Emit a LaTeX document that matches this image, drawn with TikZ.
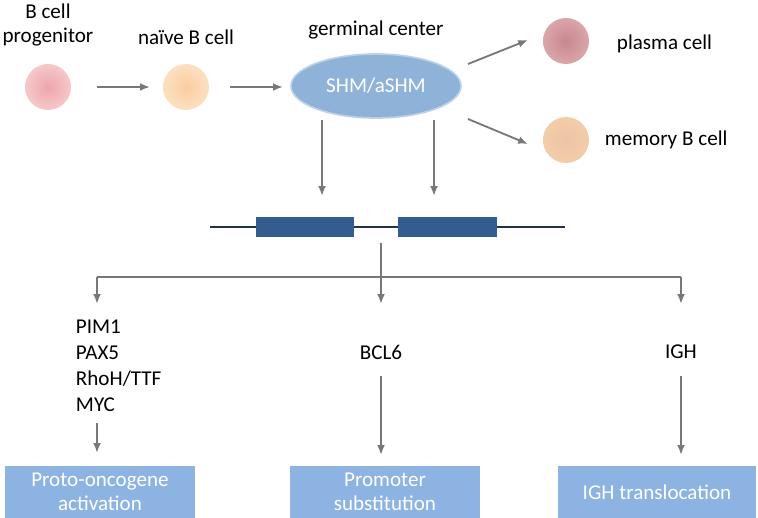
\documentclass[tikz,border=0pt]{standalone}
\usepackage{fontspec}
\setmainfont{Carlito}
\usetikzlibrary{shapes.geometric,arrows.meta}

\definecolor{arrgray}{RGB}{120,120,120}
\definecolor{gcblue}{RGB}{143,178,216}
\definecolor{boxblue}{RGB}{141,179,226}
\definecolor{exonblue}{RGB}{52,93,143}
\definecolor{dnanavy}{RGB}{30,50,78}

\begin{document}
\begin{tikzpicture}[x=0.025cm,y=-0.025cm,
    font=\fontsize{15}{17}\selectfont,
    cell/.style={circle, minimum size=46*0.025cm, inner sep=0pt},
    arr/.style={-{Latex[length=7pt,width=5.5pt]}, line width=1.3pt, arrgray},
    outbox/.style={fill=boxblue, text=white, minimum width=190*0.025cm, minimum height=52*0.025cm, align=center, inner sep=0pt}]
      \useasboundingbox (0,0) rectangle (758,518);
      % \draw[very thin, gray, step=50] (0,0) grid (758,518);

      % cells
      \node[cell, inner color={rgb,255:red,238;green,165;blue,172}, outer color={rgb,255:red,246;green,200;blue,202}] (prog) at (48,87) {};
      \node[align=center] (progtxt) at (48,25) {B cell\\progenitor};
      \node[cell, inner color={rgb,255:red,250;green,205;blue,160}, outer color={rgb,255:red,252;green,224;blue,194}] (naive) at (186,87) {};
      \node (naivetxt) at (186,37) {naïve B cell};

      \node[ellipse, fill=gcblue, draw=gcblue!60, line width=1.2pt, minimum width=170*0.025cm, minimum height=64*0.025cm, text=white] (gc) at (376,86) {SHM/aSHM};
      \node (gctxt) at (376,30) {germinal center};

      \node[cell, inner color={rgb,255:red,200;green,135;blue,143}, outer color={rgb,255:red,218;green,166;blue,170}] (plasma) at (566,41) {};
      \node[anchor=west] (plasmatxt) at (612,44) {plasma cell};
      \node[cell, inner color={rgb,255:red,238;green,196;blue,168}, outer color={rgb,255:red,243;green,205;blue,168}] (memory) at (566,140) {};
      \node[anchor=west] (memorytxt) at (600,140) {memory B cell};

      \draw[arr] (97,87) -- (150,87);
      \draw[arr] (230,87) -- (283,87);
      \draw[arr] (468,64) -- (528,40);
      \draw[arr] (468,119) -- (528,144);

      % gene
      \coordinate (g1) at (322,120);
      \coordinate (g2) at (434,120);
      \draw[arr] (g1) -- (322,196);
      \draw[arr] (g2) -- (434,196);
      \draw[line width=2pt, dnanavy] (210,227) -- (565,227);
      \node[fill=exonblue, minimum width=98*0.025cm, minimum height=20*0.025cm, inner sep=0pt] (ex1) at (305,227) {};
      \node[fill=exonblue, minimum width=99*0.025cm, minimum height=20*0.025cm, inner sep=0pt] (ex2) at (447.5,227) {};

      % split
      \coordinate (split) at (381,277);
      \draw[line width=1.3pt, arrgray] (97,277) -- (681,277);
      \draw[line width=1.3pt, arrgray] (381,243) -- (split);
      \draw[arr] (97,277) -- (97,304);
      \draw[arr] (split) -- (381,304);
      \draw[arr] (681,277) -- (681,304);

      % genes
      \node[anchor=west, align=left, font=\fontsize{15}{18.5}\selectfont] (onco) at (71,366) {PIM1\\PAX5\\RhoH/TTF\\MYC};
      \node (bcl6) at (381,352) {BCL6};
      \node (igh) at (681,352) {IGH};

      % outcomes
      \node[outbox] (act) at (100,492) {Proto-oncogene\\activation};
      \node[outbox] (prom) at (385,492) {Promoter\\substitution};
      \node[outbox, minimum width=198*0.025cm] (trans) at (657,492) {IGH translocation};

      \draw[arr] (97,423) -- (97,453);
      \draw[arr] (bcl6.south) ++(0,12) -- (381,455);
      \draw[arr] (igh.south) ++(0,12) -- (681,455);
    \end{tikzpicture}
\end{document}
